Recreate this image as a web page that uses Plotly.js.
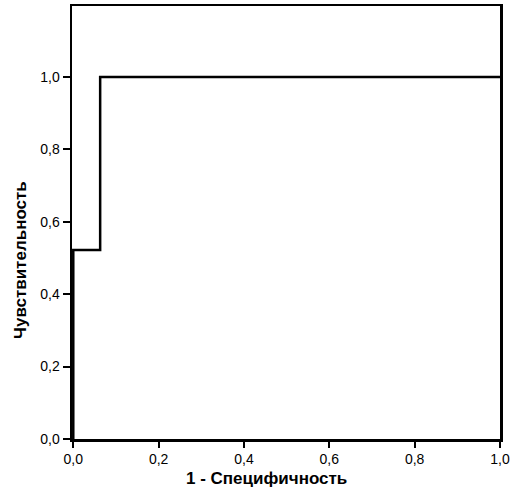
<!DOCTYPE html>
<html>
<head>
<meta charset="utf-8">
<script src="https://cdn.plot.ly/plotly-3.0.1.min.js"></script>
<style>html,body{margin:0;padding:0;background:#fff;}#chart{width:521px;height:500px;}</style>
</head>
<body>
<div id="chart"></div>
<script>
// ROC step curve
const fpr = [0.0, 0.0, 0.063, 0.063, 1.0];
const tpr = [0.0, 0.522, 0.522, 1.0, 1.0];
const tickVals = [0, 0.2, 0.4, 0.6, 0.8, 1.0];
const tickText = ["0,0", "0,2", "0,4", "0,6", "0,8", "1,0"];
const xTitle = "1 - Специфичность";
const yTitle = "Чувствительность";

const trace = {
  x: fpr, y: tpr, type: 'scatter', mode: 'lines',
  line: {color: '#000', width: 2.5, shape: 'linear'},
  hoverinfo: 'none', showlegend: false, cliponaxis: false
};
const tickFont = {family: 'Liberation Sans, Arial, sans-serif', size: 14, color: '#000'};
const layout = {
  width: 521, height: 500,
  margin: {l: 72, r: 21, t: 6, b: 61},
  paper_bgcolor: '#fff', plot_bgcolor: '#fff',
  xaxis: {
    range: [-0.003, 1], tickvals: tickVals, ticktext: tickText,
    ticks: 'outside', ticklen: 6, tickwidth: 2, tickcolor: '#000',
    showline: true, linecolor: '#000', linewidth: 2.5, mirror: true,
    showgrid: false, zeroline: false, tickfont: tickFont, fixedrange: true
  },
  yaxis: {
    range: [0, 1.196], tickvals: tickVals, ticktext: tickText,
    ticks: 'outside', ticklen: 7, tickwidth: 2, tickcolor: '#000',
    showline: true, linecolor: '#000', linewidth: 2.5, mirror: true,
    showgrid: false, zeroline: false, tickfont: tickFont, fixedrange: true
  },
  annotations: [
    {text: xTitle, xref: 'paper', yref: 'paper', x: (266-72)/428, y: -(478-439)/433,
     xanchor: 'center', yanchor: 'middle', showarrow: false,
     font: {family: 'Liberation Sans, Arial, sans-serif', size: 17, color: '#000', weight: 'bold'}},
    {text: yTitle, xref: 'paper', yref: 'paper', x: -(72-20)/428, y: (439-260)/433,
     xanchor: 'center', yanchor: 'middle', textangle: -90, showarrow: false,
     font: {family: 'Liberation Sans, Arial, sans-serif', size: 17, color: '#000', weight: 'bold'}}
  ]
};
Plotly.newPlot('chart', [trace], layout, {staticPlot: true});
</script>
</body>
</html>
